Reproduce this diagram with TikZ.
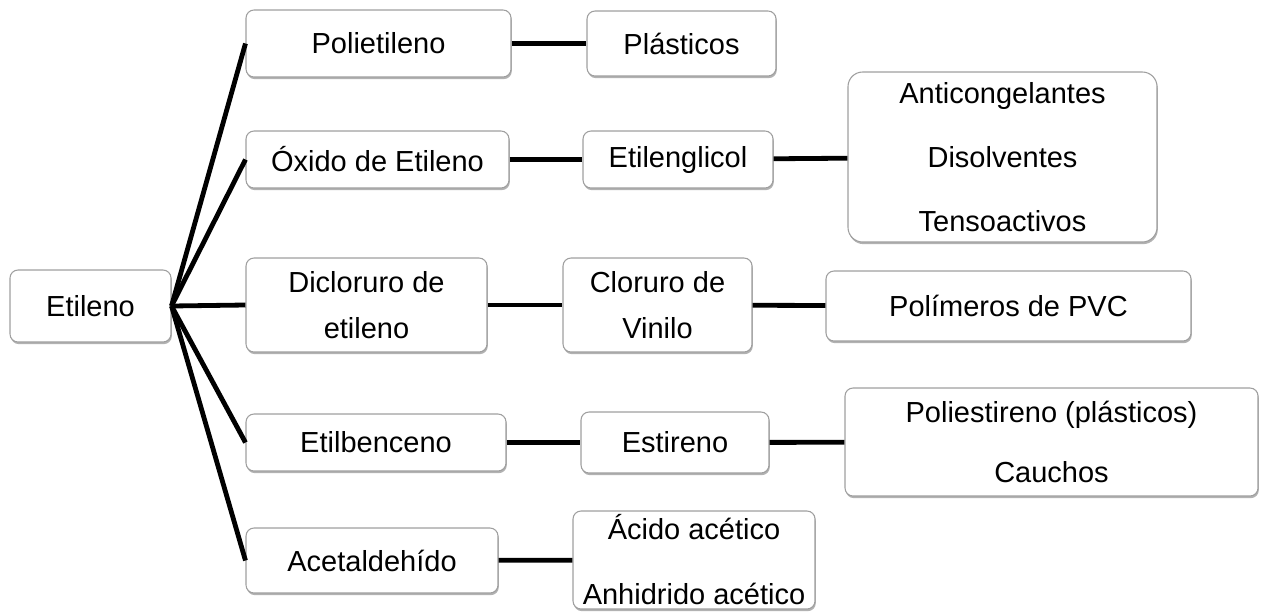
\documentclass[tikz,border=0pt]{standalone}
\usepackage{fontspec}
\setmainfont{Liberation Sans}
\usepackage{tikz}
\usetikzlibrary{%
  shadows,
}

\begin{document}
\begin{tikzpicture}[
    x = 0.75pt, y = -0.75pt,
    box/.style = {
      rectangle, rounded corners = 6pt,
      draw = gray!75, line width = 0.8pt, fill = white,
      drop shadow = {shadow xshift = 0.6pt, shadow yshift = -1.6pt,
                     fill = black, opacity = 0.3},
      inner sep = 0pt, align = center,
      font = \fontsize{21.75}{26}\selectfont,
    },
    link/.style = {line width = 3.6pt, black},
  ]
        \useasboundingbox (0,0) rectangle (1262,611);

        \node[box, minimum width = 120.75pt, minimum height = 54pt]
          (etileno) at (90.5,306) {Etileno};

        \node[box, minimum width = 198.75pt, minimum height = 50.25pt]
          (polietileno) at (378.5,43.5) {Polietileno};
        \node[box, minimum width = 141.75pt, minimum height = 48.75pt]
          (plasticos) at (681.5,43.5) {Plásticos};

        \node[box, minimum width = 197.25pt, minimum height = 42.75pt]
          (oxido) at (377.5,159.5) {Óxido de Etileno};
        \node[box, minimum width = 142.5pt, minimum height = 42.75pt]
          (glicol) at (678,159.5) {Etilenglicol};
        \node[box, rounded corners = 11pt,
          minimum width = 231.75pt, minimum height = 127.5pt]
          (usosglicol) at (1002.5,157)
          {Anticongelantes\\[22pt]Disolventes\\[22pt]Tensoactivos};

        \node[box, minimum width = 180.75pt, minimum height = 70.5pt]
          (dicloruro) at (366.5,305) {Dicloruro de\\[8.5pt]etileno};
        \node[box, minimum width = 141.75pt, minimum height = 70.5pt]
          (vinilo) at (657.5,305) {Cloruro de\\[8.5pt]Vinilo};
        \node[box, minimum width = 273.75pt, minimum height = 52.5pt]
          (pvc) at (1008.5,306) {Polímeros de PVC};

        \node[box, minimum width = 195pt, minimum height = 42.75pt]
          (etilbenceno) at (376,442.5) {Etilbenceno};
        \node[box, minimum width = 141pt, minimum height = 45.75pt]
          (estireno) at (675,442.5) {Estireno};
        \node[box, minimum width = 309.75pt, minimum height = 81pt]
          (usosestireno) at (1051.5,442)
          {Poliestireno (plásticos)\\[19pt]Cauchos};

        \node[box, minimum width = 189pt, minimum height = 48.75pt]
          (acetaldehido) at (372,560.5) {Acetaldehído};
        \node[box, minimum width = 181.5pt, minimum height = 73.5pt]
          (acetico) at (694,560) {Ácido acético\\[22.75pt]Anhidrido acético};

        \foreach \n in {polietileno, oxido, dicloruro, etilbenceno, acetaldehido}
          \draw[link] (etileno.east) -- (\n.west);

        \draw[link] (polietileno) -- (plasticos);
        \draw[link] (oxido) -- (glicol);
        \draw[link] (glicol) -- (usosglicol);
        \draw[link] (dicloruro) -- (vinilo);
        \draw[link] (vinilo) -- (pvc);
        \draw[link] (etilbenceno) -- (estireno);
        \draw[link] (estireno) -- (usosestireno);
        \draw[link] (acetaldehido) -- (acetico);
      \end{tikzpicture}
\end{document}
